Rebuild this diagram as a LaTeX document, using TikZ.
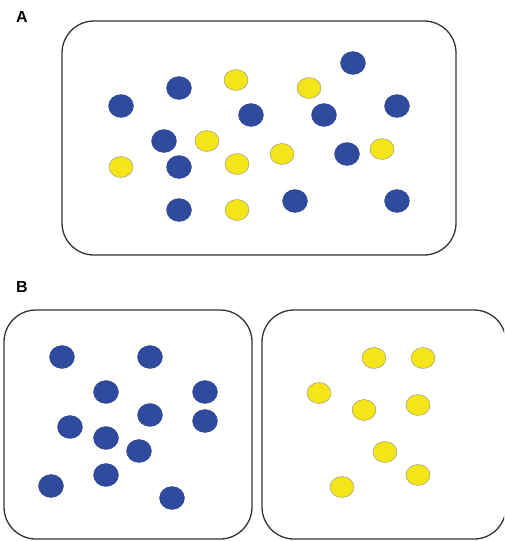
\documentclass[tikz,border=0pt]{standalone}
\usepackage{fontspec}
\setmainfont{Liberation Sans}
\begin{document}
\begin{tikzpicture}[x=1pt,y=-1pt,
  panel/.style={draw=black!80, line width=1.3pt, rounded corners=32pt},
  bluedot/.style={fill=blue1, draw=blue1!80!black, line width=0.3pt},
  yellowdot/.style={fill=yellow1, draw=black!45, line width=0.4pt},
  tag/.style={font=\bfseries\fontsize{16}{16}\selectfont, inner sep=0pt}]
\definecolor{blue1}{HTML}{2F4B9E}
\definecolor{yellow1}{HTML}{F4E51A}
\useasboundingbox (0,0) rectangle (504,541);
\clip (0,0) rectangle (504,541);

% panel A: mixed population
\node[tag] (labA) at (22,17) {A};
\draw[panel] (62,21) rectangle (456,255);
\foreach \x/\y in {353/63,179/88,121/106,251/115,324/115,397/106,164/141,179/167,347/154,179/210,295/201,397/201}
  \fill[bluedot] (\x,\y) ellipse [x radius=12.5, y radius=11.5];
\foreach \x/\y in {236/80,309/88,207/141,121/167,237/164,282/154,382/149,237/210}
  \filldraw[yellowdot] (\x,\y) ellipse [x radius=12, y radius=10.5];

% panel B: separated populations
\node[tag] (labB) at (22,287) {B};
\draw[panel] (4,310) rectangle (252,539);
\draw[panel] (262,310) rectangle (506,539);
\foreach \x/\y in {62/357,150/357,106/392,205/392,150/415,205/421,70/427,106/438,139/451,106/475,51/486,172/498}
  \fill[bluedot] (\x,\y) ellipse [x radius=12.5, y radius=11.5];
\foreach \x/\y in {374/358,423/358,319/393,364/410,418/405,385/452,418/475,342/487}
  \filldraw[yellowdot] (\x,\y) ellipse [x radius=12, y radius=10.5];
\end{tikzpicture}
\end{document}
